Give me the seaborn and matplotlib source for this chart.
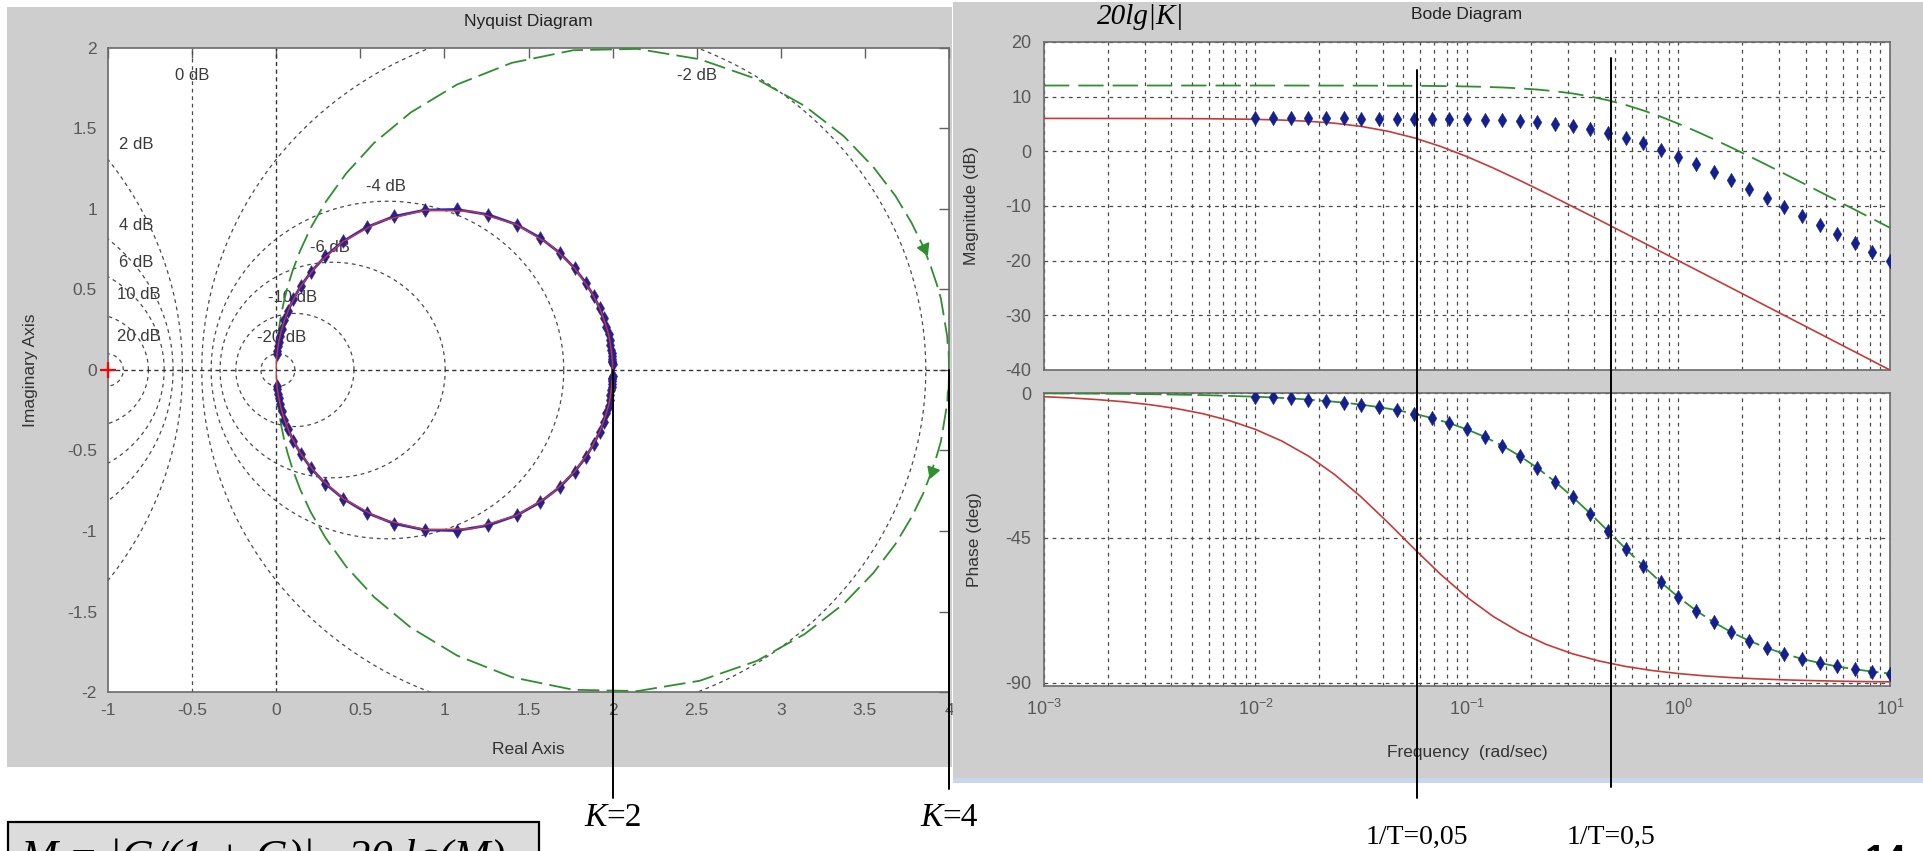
import numpy as np
import matplotlib
matplotlib.use("Agg")
import matplotlib.pyplot as plt
import matplotlib.transforms as mtransforms
from matplotlib.patches import Rectangle
from matplotlib.lines import Line2D
from matplotlib.ticker import LogLocator, NullFormatter, FixedLocator
import seaborn as sns

# ---------------------------------------------------------------- data
# red curve  (K=2, 1/T=0.05)
freq_red = [0.001, 0.00133, 0.00178, 0.00237, 0.00316, 0.00422, 0.00562, 0.0075,
            0.01, 0.0133, 0.0178, 0.0237, 0.0316, 0.0422, 0.0562, 0.075,
            0.1, 0.133, 0.178, 0.237, 0.316, 0.422, 0.562, 0.75,
            1.0, 1.33, 1.78, 2.37, 3.16, 4.22, 5.62, 7.5, 10.0]
red_mag_db = [6.02, 6.02, 6.01, 6.01, 6.00, 5.99, 5.97, 5.92,
              5.85, 5.72, 5.50, 5.14, 4.56, 3.68, 2.47, 0.90,
              -0.97, -3.05, -5.34, -7.68, -10.11, -12.56, -15.03, -17.52,
              -20.01, -22.48, -25.01, -27.50, -30.00, -32.51, -35.00, -37.50, -40.00]
red_phase_deg = [-1.15, -1.52, -2.04, -2.71, -3.62, -4.82, -6.41, -8.53,
                 -11.31, -14.90, -19.59, -25.36, -32.30, -40.17, -48.34, -56.31,
                 -63.43, -69.40, -74.31, -78.09, -81.01, -83.24, -84.92, -86.19,
                 -87.14, -87.85, -88.39, -88.79, -89.09, -89.32, -89.49, -89.62, -89.71]
# green dashed curve (K=4, 1/T=0.5)
freq_green = [0.001, 0.00178, 0.00316, 0.00562,
              0.01, 0.01212, 0.01468, 0.01778, 0.02154, 0.0261, 0.03162, 0.03831,
              0.04642, 0.05623, 0.06813, 0.08254, 0.1, 0.1212, 0.1468, 0.1778,
              0.2154, 0.261, 0.3162, 0.3831, 0.4642, 0.5623, 0.6813, 0.8254,
              1.0, 1.212, 1.468, 1.778, 2.154, 2.61, 3.162, 3.831,
              4.642, 5.623, 6.813, 8.254, 10.0]
green_mag_db = [12.04, 12.04, 12.04, 12.04,
                12.04, 12.04, 12.04, 12.03, 12.03, 12.03, 12.02, 12.01,
                12.00, 11.99, 11.96, 11.92, 11.87, 11.79, 11.68, 11.52,
                11.30, 10.99, 10.58, 10.03, 9.34, 8.49, 7.48, 6.33,
                5.05, 3.67, 2.21, 0.69, -0.87, -2.47, -4.09, -5.72,
                -7.37, -9.02, -10.67, -12.33, -13.99]
green_phase_deg = [-0.11, -0.20, -0.36, -0.64,
                   -1.15, -1.39, -1.68, -2.04, -2.47, -2.99, -3.62, -4.38,
                   -5.30, -6.42, -7.76, -9.37, -11.31, -13.63, -16.36, -19.57,
                   -23.31, -27.57, -32.31, -37.46, -42.88, -48.36, -53.73, -58.79,
                   -63.43, -67.58, -71.19, -74.29, -76.93, -79.15, -81.01, -82.56,
                   -83.85, -84.92, -85.80, -86.53, -87.14]
# blue diamond markers (K=2, 1/T=0.5)
freq_marked = [0.01, 0.01212, 0.01468, 0.01778, 0.02154, 0.0261, 0.03162, 0.03831,
               0.04642, 0.05623, 0.06813, 0.08254, 0.1, 0.1212, 0.1468, 0.1778,
               0.2154, 0.261, 0.3162, 0.3831, 0.4642, 0.5623, 0.6813, 0.8254,
               1.0, 1.212, 1.468, 1.778, 2.154, 2.61, 3.162, 3.831,
               4.642, 5.623, 6.813, 8.254, 10.0]
blue_mag_db = [6.02, 6.02, 6.02, 6.01, 6.01, 6.01, 6.00, 5.99,
               5.98, 5.97, 5.94, 5.90, 5.85, 5.77, 5.66, 5.50,
               5.28, 4.97, 4.56, 4.01, 3.32, 2.47, 1.46, 0.31,
               -0.97, -2.35, -3.81, -5.33, -6.89, -8.49, -10.11, -11.74,
               -13.39, -15.04, -16.69, -18.35, -20.01]
blue_phase_deg = [-1.15, -1.39, -1.68, -2.04, -2.47, -2.99, -3.62, -4.38,
                  -5.30, -6.42, -7.76, -9.37, -11.31, -13.63, -16.36, -19.57,
                  -23.31, -27.57, -32.31, -37.46, -42.88, -48.36, -53.73, -58.79,
                  -63.43, -67.58, -71.19, -74.29, -76.93, -79.15, -81.01, -82.56,
                  -83.85, -84.92, -85.80, -86.53, -87.14]
# M-circle grid of the Nyquist diagram
mgrid_db = [20, 10, 6, 4, 2, 0, -2, -4, -6, -10, -20]
mgrid_labels = ["20 dB", "10 dB", "6 dB", "4 dB", "2 dB", "0 dB",
                "-2 dB", "-4 dB", "-6 dB", "-10 dB", "-20 dB"]
# green direction arrows on the K=4 locus
arrow_re = [3.85, 3.90]
arrow_im = [0.76, -0.63]
critical_re, critical_im = [-1.0], [0.0]
k_values = [2, 4]
k_labels = ["=2", "=4"]
corner_freqs = [0.058, 0.48]
corner_labels = ["1/T=0,05", "1/T=0,5"]
nyq_xticks = [-1, -0.5, 0, 0.5, 1, 1.5, 2, 2.5, 3, 3.5, 4]
nyq_xticklabels = ["-1", "-0.5", "0", "0.5", "1", "1.5", "2", "2.5", "3", "3.5", "4"]
nyq_yticks = [-2, -1.5, -1, -0.5, 0, 0.5, 1, 1.5, 2]
nyq_yticklabels = ["-2", "-1.5", "-1", "-0.5", "0", "0.5", "1", "1.5", "2"]
mag_yticks = [-40, -30, -20, -10, 0, 10, 20]
phase_yticks = [-90, -45, 0]
bode_xticks = [0.001, 0.01, 0.1, 1, 10]
bode_xticklabels = [r"$10^{-3}$", r"$10^{-2}$", r"$10^{-1}$", r"$10^{0}$", r"$10^{1}$"]

# ---------------------------------------------------------------- style
sns.set_theme(style="white")
plt.rcParams["font.family"] = ["Liberation Sans", "DejaVu Sans"]
plt.rcParams["axes.unicode_minus"] = False
plt.rcParams["mathtext.fontset"] = "custom"
plt.rcParams["mathtext.rm"] = "Liberation Sans"
plt.rcParams["mathtext.it"] = "Liberation Sans:italic"
plt.rcParams["mathtext.bf"] = "Liberation Sans:bold"

RED = "#c63a3a"
GREEN = "#2f8f2f"
NAVY = "#14208e"
BLUE = "#2a2ad0"
GRID = "#4a4a4a"
PANEL = "#cecece"
TICKC = "#585858"
LABC = "#333333"
SERIF = ["Liberation Serif", "DejaVu Serif"]

W, H = 1924, 851
fig = plt.figure(figsize=(W / 100, H / 100), dpi=100)
fig.patch.set_facecolor("white")


def px_rect(x0, y0, x1, y1):
    return [x0 / W, 1 - y1 / H, (x1 - x0) / W, (y1 - y0) / H]


def fy(y):
    return 1 - y / H


# background panels of the two screenshots
fig.add_artist(Rectangle((7 / W, fy(767)), (952 - 7) / W, (767 - 7) / H,
                         transform=fig.transFigure, facecolor=PANEL, edgecolor="none", zorder=-5))
fig.add_artist(Rectangle((953 / W, fy(778)), (W - 953) / W, (778 - 2) / H,
                         transform=fig.transFigure, facecolor=PANEL, edgecolor="none", zorder=0.5))
fig.add_artist(Rectangle((953 / W, fy(783)), (W - 953) / W, 5 / H,
                         transform=fig.transFigure, facecolor="#c7d8ee", edgecolor="none", zorder=0.5))


def to_complex(mag_db, phase_deg):
    m = 10 ** (np.asarray(mag_db) / 20.0)
    p = np.deg2rad(np.asarray(phase_deg))
    return m * np.cos(p), m * np.sin(p)


def full_locus(re, im):
    return np.concatenate([re[::-1], re]), np.concatenate([-im[::-1], im])


# ---------------------------------------------------------------- Nyquist
ax_n = fig.add_axes(px_rect(108, 48, 949, 692))
ax_n.set_zorder(0)
ax_n.set_facecolor("white")
ax_n.set_xlim(-1, 4)
ax_n.set_ylim(-2, 2)

grid_kw = dict(color=GRID, lw=0.9, ls=(0, (3, 3)), zorder=1)
t = np.linspace(0, 2 * np.pi, 721)
for db in mgrid_db:
    if db == 0:
        ax_n.axvline(-0.5, **grid_kw)
        continue
    M = 10 ** (db / 20.0)
    c = -M ** 2 / (M ** 2 - 1)
    r = abs(M / (M ** 2 - 1))
    ax_n.plot(c + r * np.cos(t), r * np.sin(t), **grid_kw)
ax_n.axhline(0, color="#333333", lw=1.0, ls=(0, (3, 2.5)), zorder=1)
ax_n.axvline(0, color="#333333", lw=1.0, ls=(0, (3, 2.5)), zorder=1)

label_pos = {"0 dB": (-0.5, 1.83), "2 dB": (-0.83, 1.40), "4 dB": (-0.83, 0.90),
             "6 dB": (-0.83, 0.67), "10 dB": (-0.815, 0.47), "20 dB": (-0.815, 0.205),
             "-2 dB": (2.50, 1.83), "-4 dB": (0.655, 1.14), "-6 dB": (0.32, 0.76),
             "-10 dB": (0.10, 0.45), "-20 dB": (0.03, 0.20)}
for lab in mgrid_labels:
    x, y = label_pos[lab]
    ax_n.text(x, y, lab, ha="center", va="center", fontsize=12, color="#3a3a3a", zorder=2)

# green K=4 locus
g_re, g_im = full_locus(*to_complex(green_mag_db, green_phase_deg))
sns.lineplot(x=g_re, y=g_im, ax=ax_n, sort=False, estimator=None, color=GREEN,
             lw=1.3, linestyle=(0, (12, 4)), zorder=3)
# blue locus with markers
b_re, b_im = full_locus(*to_complex(blue_mag_db, blue_phase_deg))
sns.lineplot(x=b_re, y=b_im, ax=ax_n, sort=False, estimator=None, color=BLUE, lw=2.0, zorder=4)
sns.scatterplot(x=b_re, y=b_im, ax=ax_n, marker="d", s=50, color="#2b1f8c", edgecolor="#2b1f8c",
                linewidth=0.3, zorder=5)
# red locus
r_re, r_im = full_locus(*to_complex(red_mag_db, red_phase_deg))
sns.lineplot(x=r_re, y=r_im, ax=ax_n, sort=False, estimator=None, color=RED, lw=1.0, zorder=6)

# arrows on the green locus
for a_re, a_im in zip(arrow_re, arrow_im):
    i = int(np.argmin((g_re - a_re) ** 2 + (g_im - a_im) ** 2))
    i0, i1 = max(i - 1, 0), min(i + 1, len(g_re) - 1)
    d = ax_n.transData.transform((g_re[i1], g_im[i1])) - ax_n.transData.transform((g_re[i0], g_im[i0]))
    ang = np.degrees(np.arctan2(d[1], d[0])) - 90
    ax_n.plot([a_re], [a_im], marker=(3, 0, ang), markersize=10, color=GREEN, zorder=7,
              clip_on=False, ls="none")

ax_n.plot(critical_re, critical_im, marker="+", color="red", markersize=11, mew=1.6,
          ls="none", clip_on=False, zorder=8)

ax_n.set_xticks(nyq_xticks)
ax_n.set_xticklabels(nyq_xticklabels)
ax_n.set_yticks(nyq_yticks)
ax_n.set_yticklabels(nyq_yticklabels)
ax_n.tick_params(direction="in", length=7, width=1.0, top=True, right=True, color="#606060",
                 labelcolor=TICKC, labelsize=12.5, pad=8)
for s in ax_n.spines.values():
    s.set_color("#6a6a6a")
    s.set_linewidth(1.2)
ax_n.set_xlabel("Real Axis", fontsize=12.5, color=LABC)
ax_n.xaxis.label.set_va("center")
ax_n.xaxis.set_label_coords(0.5, -(749 - 692) / 644)
ax_n.set_ylabel("Imaginary Axis", fontsize=12.5, color=LABC)
ax_n.yaxis.label.set_va("center")
ax_n.yaxis.set_label_coords((30 - 108) / 841, 0.5)
ax_n.text(0.5, 1 + (48 - 22) / 644, "Nyquist Diagram", transform=ax_n.transAxes,
          ha="center", va="center", fontsize=12.5, color="#222222")

# K lines and labels
k_line_end = {2: -2.66, 4: -2.60}
for k, lab in zip(k_values, k_labels):
    ax_n.plot([k, k], [0, k_line_end[k]], color="black", lw=1.4, clip_on=False, zorder=10)
    ax_n.annotate("K", xy=(k, -2.78), xytext=(-4.5, 0), textcoords="offset points",
                  ha="right", va="center", family=SERIF, style="italic", fontsize=24,
                  annotation_clip=False, color="black")
    ax_n.annotate(lab, xy=(k, -2.78), xytext=(-4.5, 0), textcoords="offset points",
                  ha="left", va="center", family=SERIF, fontsize=24,
                  annotation_clip=False, color="black")

# ---------------------------------------------------------------- Bode
ax_m = fig.add_axes(px_rect(1044, 42, 1890, 370))
ax_p = fig.add_axes(px_rect(1044, 393, 1890, 686))
bode_grid = dict(color="#4a4a4a", lw=0.9, ls=(0, (3, 3.5)))
for ax in (ax_m, ax_p):
    ax.set_zorder(2)
    ax.set_facecolor("white")
    ax.set_xscale("log")
    ax.set_xlim(1e-3, 10)
    ax.xaxis.set_major_locator(FixedLocator(bode_xticks))
    ax.xaxis.set_minor_locator(LogLocator(base=10, subs=np.arange(2, 10)))
    ax.xaxis.set_minor_formatter(NullFormatter())
    ax.grid(which="both", axis="x", **bode_grid)
    ax.grid(which="major", axis="y", **bode_grid)
    ax.set_axisbelow(True)
    ax.tick_params(which="both", length=0, labelcolor=TICKC, labelsize=13, pad=9)
    for s in ax.spines.values():
        s.set_color("#6a6a6a")
        s.set_linewidth(1.2)

ax_m.set_ylim(-40, 20)
ax_m.set_yticks(mag_yticks)
ax_m.set_yticklabels([str(v) for v in mag_yticks])
ax_m.tick_params(labelbottom=False)
ax_p.set_ylim(-91, 0)
ax_p.set_yticks(phase_yticks)
ax_p.set_yticklabels([str(v) for v in phase_yticks])
ax_p.set_xticklabels(bode_xticklabels)

sns.lineplot(x=freq_green, y=green_mag_db, ax=ax_m, color=GREEN, lw=1.3,
             linestyle=(0, (14, 5)), zorder=3)
sns.lineplot(x=freq_red, y=red_mag_db, ax=ax_m, color=RED, lw=1.2, zorder=4)
sns.scatterplot(x=freq_marked, y=blue_mag_db, ax=ax_m, marker="d", s=55, color=NAVY,
                edgecolor=NAVY, linewidth=0.3, zorder=5)

sns.lineplot(x=freq_green, y=green_phase_deg, ax=ax_p, color=GREEN, lw=1.3,
             linestyle=(0, (14, 3)), zorder=3)
sns.lineplot(x=freq_red, y=red_phase_deg, ax=ax_p, color=RED, lw=1.2, zorder=4)
sns.scatterplot(x=freq_marked, y=blue_phase_deg, ax=ax_p, marker="d", s=55, color=NAVY,
                edgecolor=NAVY, linewidth=0.3, zorder=5)

ax_m.set_xlabel("")
ax_p.set_xlabel("Frequency  (rad/sec)", fontsize=12.5, color=LABC)
ax_p.xaxis.label.set_va("center")
ax_p.xaxis.set_label_coords(0.5, -(752 - 686) / 293)
ax_m.set_ylabel("Magnitude (dB)", fontsize=12.5, color=LABC)
ax_m.yaxis.label.set_va("center")
ax_m.yaxis.set_label_coords((972 - 1044) / 846, 0.5)
ax_p.set_ylabel("Phase (deg)", fontsize=12.5, color=LABC)
ax_p.yaxis.label.set_va("center")
ax_p.yaxis.set_label_coords((975 - 1044) / 846, 0.5)
ax_m.text(0.5, 1 + (42 - 15) / 328, "Bode Diagram", transform=ax_m.transAxes,
          ha="center", va="center", fontsize=12.5, color="#222222")

fig.text(1141 / W, fy(17), "20lg|K|", ha="center", va="center", family=SERIF,
         style="italic", fontsize=21, color="black", zorder=5)

# corner frequency lines spanning both Bode panels
blend = mtransforms.blended_transform_factory(ax_m.transData, fig.transFigure)
corner_span = {0.058: (70, 798), 0.48: (58, 787)}
for f, lab in zip(corner_freqs, corner_labels):
    y0, y1 = corner_span[f]
    fig.add_artist(Line2D([f, f], [fy(y0), fy(y1)], transform=blend, color="black", lw=1.4, zorder=10))
    fig.text(f, fy(837), lab, transform=blend, ha="center", va="center",
             family=SERIF, fontsize=20, color="black", zorder=10)

# ---------------------------------------------------------------- slide leftovers
fig.add_artist(Rectangle((8 / W, fy(880)), (539 - 8) / W, (880 - 822) / H,
                         transform=fig.transFigure, facecolor="#dcdcdc", edgecolor="black",
                         lw=1.6, zorder=1, clip_on=False))
fig.text(21 / W, fy(870), "M = |G/(1 + G)|,  20 lg(M)", ha="left", va="baseline",
         family=SERIF, style="italic", fontsize=32, color="black", zorder=2)
fig.text(1865 / W, fy(872), "14", ha="left", va="baseline", fontsize=27,
         fontweight="bold", color="black")

fig.savefig("out.png", dpi=100, facecolor="white")
